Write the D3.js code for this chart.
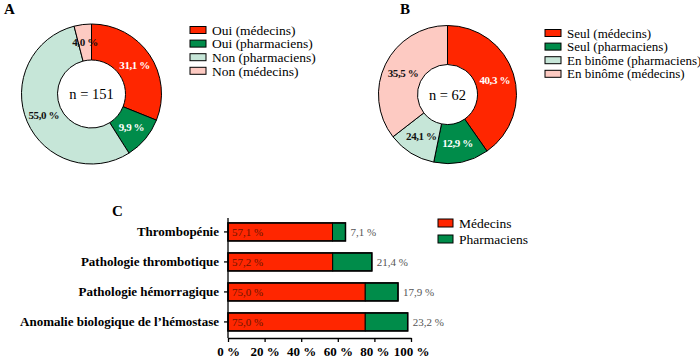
<!DOCTYPE html>
<html><head><meta charset="utf-8">
<script src="https://cdn.jsdelivr.net/npm/d3@7"></script>
<style>
html,body{margin:0;padding:0;background:#fff;}
svg{display:block;}
</style></head>
<body><svg id="c" width="700" height="360"></svg>
<script>
const FONT = '"Liberation Serif"';
const colors = ["#ff2600", "#008c4a", "#c6e6d8", "#fdcac2"];

const catsA = ["Oui (médecins)", "Oui (pharmaciens)", "Non (pharmaciens)", "Non (médecins)"];
const valsA = [31.1, 9.9, 55.0, 4.0];
const labelsA = ["31,1 %", "9,9 %", "55,0 %", "4,0 %"];

const catsB = ["Seul (médecins)", "Seul (pharmaciens)", "En binôme (pharmaciens)", "En binôme (médecins)"];
const valsB = [40.3, 12.9, 11.3, 35.5];
const labelsB = ["40,3 %", "12,9 %", "24,1 %", "35,5 %"];

const catsC = ["Thrombopénie", "Pathologie thrombotique", "Pathologie hémorragique", "Anomalie biologique de l\u2019hémostase"];
const medecinsC = [57.1, 57.2, 75.0, 75.0];
const pharmaciensC = [7.1, 21.4, 17.9, 23.2];
const medLabelsC = ["57,1 %", "57,2 %", "75,0 %", "75,0 %"];
const phaLabelsC = ["7,1 %", "21,4 %", "17,9 %", "23,2 %"];
const seriesC = ["Médecins", "Pharmaciens"];
const ticksC = [0, 20, 40, 60, 80, 100];

const svg = d3.select("#c");

function donut(cx, cy, rOut, rIn, vals, labels, cats, centerText, lx, ly, panel, px, lfs) {
  const g = svg.append("g").attr("transform", `translate(${cx},${cy})`);
  const pie = d3.pie().sort(null).value(d => d);
  const arcs = pie(vals);
  const arc = d3.arc().innerRadius(rIn).outerRadius(rOut);
  g.selectAll("path.s").data(arcs).join("path")
    .attr("d", arc).attr("fill", (d, i) => colors[i])
    .attr("stroke", "#000").attr("stroke-width", 1);
  g.selectAll("text.l").data(arcs).join("text")
    .attr("transform", d => `translate(${arc.centroid(d)})`)
    .attr("text-anchor", "middle").attr("dy", "0.35em")
    .attr("font-size", 11).attr("font-weight", "bold").attr("letter-spacing", -0.4)
    .attr("fill", (d, i) => i < 2 ? "#fff" : "#111")
    .text((d, i) => labels[i]);
  g.append("text").attr("text-anchor", "middle").attr("dy", "0.35em")
    .attr("font-size", 14.5).attr("fill", "#000").text(centerText);
  const lg = svg.append("g");
  cats.forEach((c, i) => {
    const y = ly + i * 13.6;
    lg.append("rect").attr("x", lx).attr("y", y - 3.5).attr("width", 16).attr("height", 7)
      .attr("fill", colors[i]).attr("stroke", "#000").attr("stroke-width", 1);
    lg.append("text").attr("x", lx + 22).attr("y", y).attr("dy", "0.35em")
      .attr("font-size", lfs).attr("fill", "#000").text(c);
  });
  svg.append("text").attr("x", px).attr("y", 14).attr("font-size", 15)
    .attr("font-weight", "bold").text(panel);
}

donut(91.5, 94, 70, 34, valsA, labelsA, catsA, "n = 151", 190, 30, "A", 4, 13.5);
donut(447.5, 94.5, 69, 30, valsB, labelsB, catsB, "n = 62", 545, 33, "B", 400, 13);

// Panel C
const x = d3.scaleLinear().domain([0, 100]).range([228, 411]);
const y = d3.scaleBand().domain(catsC).range([218, 338]).paddingInner(0.4).paddingOuter(0.2).align(0.41);
const gc = svg.append("g");

gc.selectAll("rect.m").data(catsC).join("rect")
  .attr("x", x(0)).attr("y", d => y(d)).attr("height", y.bandwidth())
  .attr("width", (d, i) => x(medecinsC[i]) - x(0))
  .attr("fill", colors[0]).attr("stroke", "#000").attr("stroke-width", 1);
gc.selectAll("rect.p").data(catsC).join("rect")
  .attr("x", (d, i) => x(medecinsC[i])).attr("y", d => y(d)).attr("height", y.bandwidth())
  .attr("width", (d, i) => x(medecinsC[i] + pharmaciensC[i]) - x(medecinsC[i]))
  .attr("fill", colors[1]).attr("stroke", "#000").attr("stroke-width", 1);
gc.selectAll("rect.o").data(catsC).join("rect")
  .attr("x", x(0)).attr("y", d => y(d)).attr("height", y.bandwidth())
  .attr("width", (d, i) => x(medecinsC[i] + pharmaciensC[i]) - x(0))
  .attr("fill", "none").attr("stroke", "#000").attr("stroke-width", 1.5);

gc.selectAll("text.m").data(catsC).join("text")
  .attr("x", x(0) + 4).attr("y", d => y(d) + y.bandwidth() / 2).attr("dy", "0.35em")
  .attr("font-size", 11).attr("fill", "#6b1500").text((d, i) => medLabelsC[i]);
gc.selectAll("text.p").data(catsC).join("text")
  .attr("x", (d, i) => x(medecinsC[i] + pharmaciensC[i]) + 5)
  .attr("y", d => y(d) + y.bandwidth() / 2).attr("dy", "0.35em")
  .attr("font-size", 11).attr("fill", "#555").text((d, i) => phaLabelsC[i]);

const yAxis = gc.append("g").attr("transform", `translate(${x(0)},0)`)
  .call(d3.axisLeft(y).tickSize(4).tickSizeOuter(0));
yAxis.select(".domain").remove();
yAxis.selectAll("text").attr("font-size", 13)
  .attr("font-weight", "bold").attr("fill", "#000").attr("x", -9);
yAxis.selectAll("line").attr("stroke", "#000").attr("stroke-width", 1.3);
gc.append("line").attr("x1", x(0)).attr("x2", x(0)).attr("y1", 218).attr("y2", 338)
  .attr("stroke", "#000").attr("stroke-width", 1.3);

const xAxis = gc.append("g").attr("transform", `translate(0,338)`)
  .call(d3.axisBottom(x).tickValues(ticksC).tickSize(4).tickSizeOuter(0).tickFormat(d => d + " %"));
xAxis.select(".domain").attr("stroke-width", 1.3);
xAxis.selectAll("line").attr("stroke-width", 1.3);
xAxis.selectAll("text").attr("font-size", 13)
  .attr("font-weight", "bold").attr("fill", "#000").attr("y", 9);

seriesC.forEach((s, i) => {
  const yy = 223 + i * 16;
  gc.append("rect").attr("x", 438).attr("y", yy - 4).attr("width", 15).attr("height", 8)
    .attr("fill", colors[i]).attr("stroke", "#000").attr("stroke-width", 1);
  gc.append("text").attr("x", 459).attr("y", yy).attr("dy", "0.35em")
    .attr("font-size", 13.5).attr("fill", "#000").text(s);
});
svg.append("text").attr("x", 112).attr("y", 216).attr("font-size", 15)
  .attr("font-weight", "bold").text("C");

svg.selectAll("g").attr("font-family", null);
svg.selectAll("text").style("font-family", FONT);
</script></body></html>
